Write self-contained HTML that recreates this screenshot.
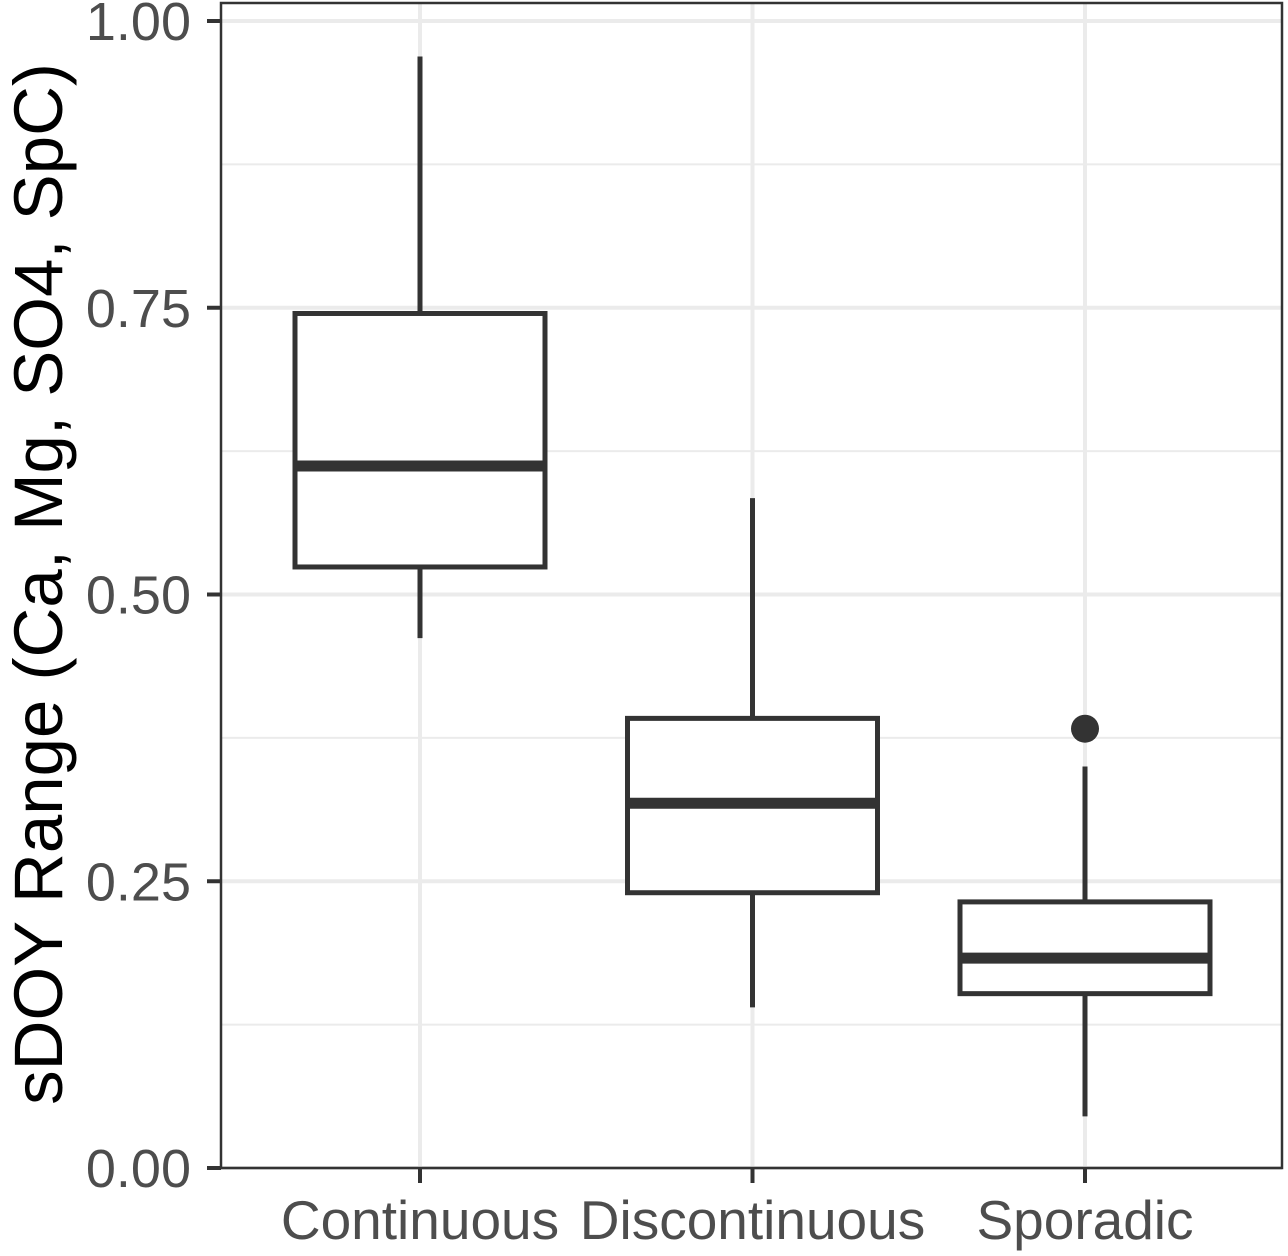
<!DOCTYPE html>
<html><head><meta charset="utf-8"><style>
html,body{margin:0;padding:0;background:#fff;}
svg{display:block;font-family:"Liberation Sans",Arial,sans-serif;}
</style></head><body>
<svg id="chart" width="1288" height="1256" viewBox="0 0 1288 1256" xmlns="http://www.w3.org/2000/svg">
<g id="grid"></g>
<g id="boxes"></g>
<rect x="221" y="3" width="1061" height="1165" fill="none" stroke="#333" stroke-width="2.5"/>
<g id="axes"></g>
<text transform="translate(62,584) rotate(-90)" text-anchor="middle" font-size="69" fill="#000">sDOY Range (Ca, Mg, SO4, SpC)</text>
</svg>
<script>
const categories=["Continuous","Discontinuous","Sporadic"];
const whiskerHigh=[0.969,0.584,0.350];
const q3=[0.745,0.392,0.232];
const median=[0.612,0.318,0.183];
const q1=[0.524,0.240,0.152];
const whiskerLow=[0.462,0.140,0.045];
const outlierCat=[2];
const outlierVal=[0.383];
const yTicks=[0,0.25,0.5,0.75,1];
const yTickLabels=["0.00","0.25","0.50","0.75","1.00"];

const NS="http://www.w3.org/2000/svg";
const y=v=>1168-v*1147;
const x=i=>420+i*332.5;
const bw=250;
function mk(tag,attrs,parent){const e=document.createElementNS(NS,tag);for(const k in attrs)e.setAttribute(k,attrs[k]);parent.appendChild(e);return e;}
const grid=document.getElementById('grid'),boxes=document.getElementById('boxes'),axes=document.getElementById('axes');
for(let v=0;v<=1.0001;v+=0.125){
  const g=mk('line',{x1:221,x2:1282,y1:y(v),y2:y(v),stroke:'#ebebeb','stroke-width':(Math.round(v*8)%2===0)?4:2},grid);
  
  
}
categories.forEach((c,i)=>{
  const g=mk('line',{x1:x(i),x2:x(i),y1:3,y2:1168,stroke:'#ebebeb','stroke-width':4},grid);
  
  
});
categories.forEach((c,i)=>{
  const s='#333';
  const w1=mk('line',{x1:x(i),x2:x(i),y1:y(whiskerHigh[i]),y2:y(q3[i]),stroke:s,'stroke-width':5},boxes);
  
  
  const w2=mk('line',{x1:x(i),x2:x(i),y1:y(q1[i]),y2:y(whiskerLow[i]),stroke:s,'stroke-width':5},boxes);
  
  
  const r=mk('rect',{x:x(i)-bw/2,y:y(q3[i]),width:bw,height:y(q1[i])-y(q3[i]),fill:'#fff',stroke:s,'stroke-width':5},boxes);
  
  
  const m=mk('line',{x1:x(i)-bw/2,x2:x(i)+bw/2,y1:y(median[i]),y2:y(median[i]),stroke:s,'stroke-width':11},boxes);
  
  
});
outlierVal.forEach((v,k)=>{
  const o=mk('circle',{cx:x(outlierCat[k]),cy:y(v),r:14,fill:'#333'},boxes);
  
  
});
yTicks.forEach((v,k)=>{
  const t=mk('line',{x1:207,x2:221,y1:y(v),y2:y(v),stroke:'#333','stroke-width':4},axes);
  
  
  const l=mk('text',{x:191,y:y(v)+19,'text-anchor':'end','font-size':54,fill:'#4d4d4d'},axes);
  l.textContent=yTickLabels[k];
  
  
});
categories.forEach((c,i)=>{
  const t=mk('line',{x1:x(i),x2:x(i),y1:1168,y2:1183,stroke:'#333','stroke-width':4},axes);
  
  
  const l=mk('text',{x:x(i),y:1239,'text-anchor':'middle','font-size':55,fill:'#4d4d4d'},axes);
  l.textContent=c;
  
  
});
</script>
</body></html>
